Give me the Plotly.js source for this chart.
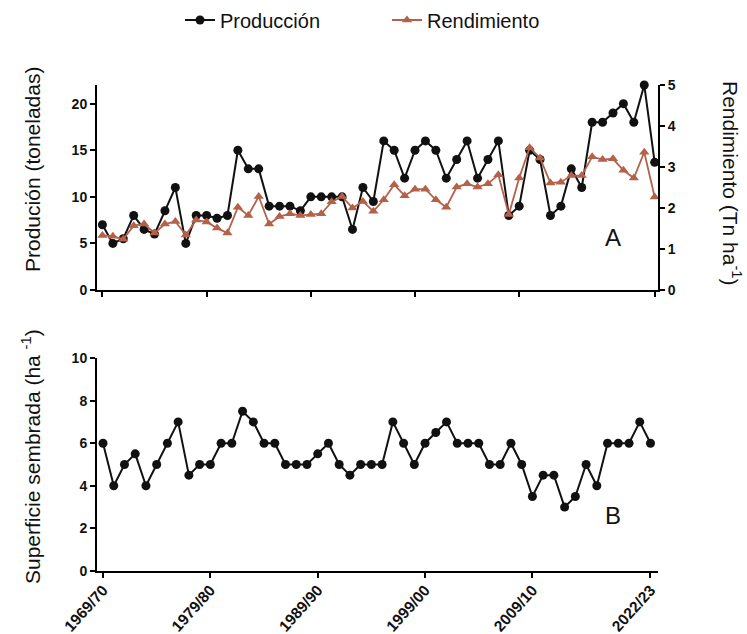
<!DOCTYPE html>
<html>
<head>
<meta charset="utf-8">
<script src="https://cdn.plot.ly/plotly-3.0.1.min.js"></script>
<style>html,body{margin:0;padding:0;background:#fff;}#chart{width:747px;height:634px;}</style>
</head>
<body>
<div id="chart"></div>
<script>
// Top panel (A): 54 seasons, 1969/70 .. 2022/23
const produccion = [7, 5, 5.5, 8, 6.5, 6, 8.5, 11, 5, 8, 8, 7.7, 8, 15, 13, 13, 9, 9, 9, 8.5,
  10, 10, 10, 10, 6.5, 11, 9.5, 16, 15, 12, 15, 16, 15, 12, 14, 16, 12, 14, 16, 8,
  9, 15, 14, 8, 9, 13, 11, 18, 18, 19, 20, 18, 22, 13.7];
const rendimiento = [1.33, 1.31, 1.24, 1.57, 1.61, 1.39, 1.61, 1.67, 1.34, 1.71, 1.66, 1.51, 1.39, 2.02, 1.82, 2.28, 1.61, 1.79, 1.86, 1.82,
  1.84, 1.86, 2.15, 2.28, 2.0, 2.16, 1.92, 2.2, 2.57, 2.3, 2.46, 2.46, 2.2, 2.02, 2.51, 2.59, 2.51, 2.59, 2.81, 1.84,
  2.73, 3.47, 3.22, 2.61, 2.63, 2.79, 2.79, 3.25, 3.18, 3.2, 2.92, 2.73, 3.36, 2.27];
// Bottom panel (B): 52 points as drawn
const superficie = [6, 4, 5, 5.5, 4, 5, 6, 7, 4.5, 5, 5, 6, 6, 7.5, 7, 6, 6, 5, 5, 5,
  5.5, 6, 5, 4.5, 5, 5, 5, 7, 6, 5, 6, 6.5, 7, 6, 6, 6,
  5, 5, 6, 5, 3.5, 4.5, 4.5, 3, 3.5, 5, 4, 6, 6, 6, 7, 6];

const tickLabels = ['1969/70', '1979/80', '1989/90', '1999/00', '2009/10', '2022/23'];
const topTickIdx = [0, 10, 20, 30, 40, 53];
const bottomTickIdx = [0, 10, 20, 30, 40, 51];

const idx = arr => arr.map((_, i) => i);
const BLACK = '#111111';
const BROWN = '#b4614a';
const FONT = 'Liberation Sans, Arial, sans-serif';

const traces = [
  {x: idx(produccion), y: produccion, name: 'Producción', type: 'scatter', mode: 'lines+markers',
   xaxis: 'x', yaxis: 'y', cliponaxis: false,
   line: {color: BLACK, width: 2}, marker: {color: BLACK, size: 9, symbol: 'circle'}},
  {x: idx(rendimiento), y: rendimiento, name: 'Rendimiento', type: 'scatter', mode: 'lines+markers',
   xaxis: 'x', yaxis: 'y2', cliponaxis: false,
   line: {color: BROWN, width: 1.8}, marker: {color: BROWN, size: 9, symbol: 'triangle-up'}},
  {x: idx(superficie), y: superficie, name: 'Superficie sembrada', type: 'scatter', mode: 'lines+markers',
   xaxis: 'x2', yaxis: 'y3', cliponaxis: false, showlegend: false,
   line: {color: BLACK, width: 2}, marker: {color: BLACK, size: 9, symbol: 'circle'}}
];

const axisCommon = {
  showline: true, linecolor: '#000', linewidth: 2, showgrid: false, zeroline: false,
  ticks: 'outside', ticklen: 5, tickwidth: 2, tickcolor: '#000',
  tickfont: {family: FONT, size: 14, color: '#111', weight: 'bold'}
};

const L = 97, R = 658, T = 85, B = 571;
const W = R - L, H = B - T;
const px = v => (v - L) / W;
const py = v => (B - v) / H;

const layout = {
  width: 747, height: 634,
  margin: {l: L, r: 747 - R, t: T, b: 634 - B, pad: 0, autoexpand: false},
  paper_bgcolor: '#fff', plot_bgcolor: 'rgba(0,0,0,0)',
  font: {family: FONT, color: '#111'},
  showlegend: true,
  legend: {orientation: 'h', x: px(180), xanchor: 'left', y: py(20), yanchor: 'middle',
           font: {family: FONT, size: 20, color: '#111'}, entrywidth: 162, entrywidthmode: 'pixels',
           bgcolor: 'rgba(0,0,0,0)'},
  xaxis: Object.assign({}, axisCommon, {domain: [0, 1], anchor: 'y', range: [-0.52, 53.32],
           tickvals: topTickIdx, showticklabels: false}),
  yaxis: Object.assign({}, axisCommon, {domain: [py(290), 1], anchor: 'x', range: [0, 22],
           tickvals: [0, 5, 10, 15, 20]}),
  yaxis2: Object.assign({}, axisCommon, {overlaying: 'y', side: 'right', anchor: 'x', range: [0, 5],
           tickvals: [0, 1, 2, 3, 4, 5]}),
  xaxis2: Object.assign({}, axisCommon, {domain: [0, 1], anchor: 'y3', range: [-0.56, 51.7],
           tickvals: bottomTickIdx, ticktext: tickLabels, tickangle: -48, ticklabelstandoff: -3,
           tickfont: {family: FONT, size: 15.5, color: '#111', weight: 'bold'}}),
  yaxis3: Object.assign({}, axisCommon, {domain: [0, py(358)], anchor: 'x2', range: [0, 10],
           tickvals: [0, 2, 4, 6, 8, 10]}),
  annotations: [
    {text: 'Produción (toneladas)', xref: 'paper', yref: 'paper', x: px(32), y: py(170),
     xanchor: 'center', yanchor: 'middle', textangle: -90, showarrow: false,
     font: {family: FONT, size: 21, color: '#111'}},
    {text: 'Superficie sembrada (ha <sup>-1</sup>)', xref: 'paper', yref: 'paper', x: px(31), y: py(457),
     xanchor: 'center', yanchor: 'middle', textangle: -90, showarrow: false,
     font: {family: FONT, size: 21, color: '#111'}},
    {text: 'Rendimiento (Tn ha<sup>-1</sup>)', xref: 'paper', yref: 'paper', x: px(732), y: py(183),
     xanchor: 'center', yanchor: 'middle', textangle: 90, showarrow: false,
     font: {family: FONT, size: 21, color: '#111'}},
    {text: 'A', xref: 'paper', yref: 'paper', x: px(613), y: py(238),
     xanchor: 'center', yanchor: 'middle', showarrow: false,
     font: {family: FONT, size: 24, color: '#111'}},
    {text: 'B', xref: 'paper', yref: 'paper', x: px(613), y: py(515),
     xanchor: 'center', yanchor: 'middle', showarrow: false,
     font: {family: FONT, size: 24, color: '#111'}}
  ]
};

Plotly.newPlot('chart', traces, layout, {displayModeBar: false, staticPlot: true});
</script>
</body>
</html>
